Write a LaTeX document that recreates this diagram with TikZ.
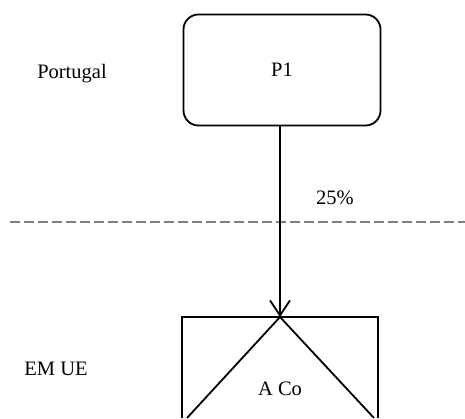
\documentclass[tikz,border=0pt]{standalone}
\usepackage{fontspec}
\setmainfont{Liberation Serif}
\usetikzlibrary{arrows.meta}
\begin{document}
\begin{tikzpicture}[x=1pt,y=-1pt,
  lbl/.style={inner sep=0pt,font=\fontsize{20.5}{24}\selectfont},
  edge/.style={draw=black,line width=1.8pt}]
\useasboundingbox (0,0) rectangle (465,418);
\node[lbl] (pt) at (72,74) {Portugal};
\node[lbl] (em) at (56,369) {EM UE};
\node[draw,line width=1.8pt,rounded corners=15pt,minimum width=197pt,minimum height=111pt,inner sep=0pt,font=\fontsize{20.5}{24}\selectfont] (p1) at (282,70) {P1};
\draw[gray,line width=2pt,dash pattern=on 10pt off 4pt] (10,222) -- (465,222);
\coordinate (apex) at (280,317);
\draw[edge] (182,418) -- (182,317) -- (378,317) -- (378,418);
\draw[edge] (187,418) -- (apex) -- (374,418);
\draw[line width=1.8pt,-{Straight Barb[length=15pt,width=20pt]}] (p1.south -| apex) -- (apex);
\node[lbl] (pct) at (335,198) {25\%};
\node[lbl] (aco) at (280,389) {A Co};
\end{tikzpicture}
\end{document}
